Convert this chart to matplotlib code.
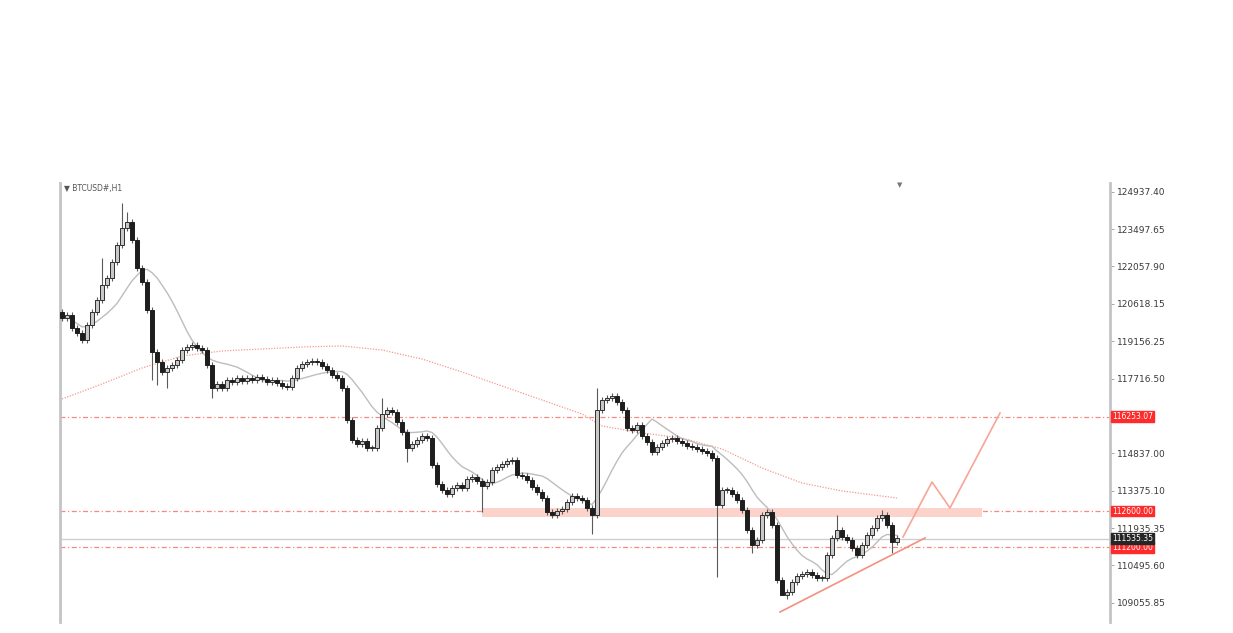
import matplotlib
matplotlib.use("Agg")
import matplotlib.pyplot as plt
import matplotlib.transforms as mtransforms
from matplotlib.patches import Rectangle
import numpy as np
import pandas as pd

# hourly closes, one per bar
closes = [
    120065, 120181, 119678, 119485, 119214, 119794, 120297, 120761, 121341, 121612,
    122230, 122888, 123545, 123777, 123081, 121998, 121457, 120374, 118750, 118363,
    117977, 118131, 118247, 118441, 118827, 118944, 119021, 118905, 118827, 118247,
    117358, 117513, 117358, 117667, 117590, 117745, 117629, 117745, 117667, 117783,
    117706, 117590, 117667, 117551, 117435, 117397, 117745, 118131, 118286, 118363,
    118402, 118363, 118209, 118054, 117861, 117745, 117358, 116121, 115347, 115193,
    115309, 115038, 115038, 115811, 116353, 116508, 116430, 116043, 115657, 115038,
    115193, 115347, 115502, 115424, 114380, 113646, 113414, 113259, 113491, 113607,
    113491, 113839, 113916, 113762, 113568, 113723, 114187, 114303, 114419, 114535,
    114574, 113994, 113955, 113800, 113530, 113336, 113104, 112563, 112447, 112602,
    112679, 112950, 113182, 113104, 113027, 112718, 112447, 116508, 116894, 116971,
    117049, 116817, 116508, 115811, 115734, 115928, 115502, 115270, 114883, 115077,
    115231, 115386, 115424, 115309, 115231, 115115, 115077, 114999, 114922, 114845,
    114651, 112834, 113414, 113414, 113259, 113027, 112641, 111868, 111287, 111481,
    112447, 112563, 112061, 109933, 109353, 109469, 109856, 110088, 110165, 110243,
    110127, 110010, 110010, 110900, 111558, 111868, 111596, 111481, 111171, 110900,
    111287, 111674, 111944, 112331, 112447, 112061, 111403, 111558,
]
first_open = 120300

# long wicks
spike_high = {8: 122385, 12: 124511, 13: 124164, 64: 116971, 107: 117358,
              155: 112447, 164: 112640}
spike_low = {18: 117667, 19: 117474, 21: 117358, 30: 116971, 69: 114496,
             84: 112563, 106: 111714, 131: 110054, 138: 110978, 144: 109390,
             145: 109198, 166: 110978}

# slow moving average (red dotted), sampled
slow_ma_idx = [0, 8, 16, 24, 32, 40, 48, 56, 64, 72, 80, 88, 96, 104, 108,
               116, 124, 132, 140, 148, 156, 167]
slow_ma_val = [116933, 117513, 118131, 118595, 118789, 118866, 118944, 118982,
               118827, 118479, 117977, 117435, 116894, 116353, 115889, 115618,
               115424, 114999, 114264, 113684, 113375, 113104]

# levels
levels = [116253.07, 112600.00, 111200.00]
level_labels = ["116253.07", "112600.00", "111200.00"]
last_price = 111535.35
last_label = "111535.35"

zone_x = [84, 184]
zone_y = [112370, 112718]

trend_x = [143.6, 172.6]
trend_y = [108696, 111558]

proj_x = [168.2, 174.0, 177.6, 187.6]
proj_y = [111596, 113723, 112718, 116391]

tick_vals = [124937.40, 123497.65, 122057.90, 120618.15, 119156.25, 117716.50,
             114837.00, 113375.10, 111935.35, 110495.60, 109055.85]

# build candles
c = np.array(closes, dtype=float)
o = np.concatenate([[first_open], c[:-1]])
h = np.maximum(o, c) + 110
l = np.minimum(o, c) - 110
for k, v in spike_high.items():
    h[k] = v
for k, v in spike_low.items():
    l[k] = v
idx = np.arange(len(c))
fast_ma = pd.Series(c).rolling(12, min_periods=1).mean()

W, H = 1233, 633
fig = plt.figure(figsize=(W / 100, H / 100), dpi=100)
fig.patch.set_facecolor("white")
ax = fig.add_axes([60 / W, (H - 622) / H, (1110 - 60) / W, (622 - 183) / H])
ax.set_xlim(-0.4, 209.6)
ax.set_ylim(108309, 125285)

# horizontal levels and zone
for lv in levels:
    ax.axhline(lv, color="#f28a80", lw=0.9, ls=(0, (4, 2, 1, 2)), zorder=1)
ax.axhline(last_price, color="#cfcfcf", lw=1.0, zorder=1)
ax.add_patch(Rectangle((zone_x[0], zone_y[0]), zone_x[1] - zone_x[0],
                       zone_y[1] - zone_y[0], facecolor="#fcd3ca",
                       edgecolor="none", zorder=1))

# moving averages
ax.plot(slow_ma_idx, slow_ma_val, color="#f39a90", lw=0.9, ls=(0, (1, 1.2)), zorder=2)
ax.plot(idx, fast_ma, color="#bdbdbd", lw=1.0, zorder=2)

# candles
up = c >= o
ax.vlines(idx, l, h, color="#5a5a5a", lw=0.8, zorder=3)
body = np.where(np.abs(c - o) < 50, 50, np.abs(c - o))
ax.bar(idx[up], body[up], bottom=o[up], width=0.75, color="#c8c8c8",
       edgecolor="#2e2e2e", lw=0.7, zorder=4)
ax.bar(idx[~up], body[~up], bottom=c[~up], width=0.75, color="#1e1e1e",
       edgecolor="#1e1e1e", lw=0.7, zorder=4)

# drawings
ax.plot(trend_x, trend_y, color="#f4907f", lw=1.2, zorder=5)
ax.plot(proj_x, proj_y, color="#f7a596", lw=1.2, zorder=5)

# axes styling
for s in ["top", "bottom"]:
    ax.spines[s].set_visible(False)
for s in ["left", "right"]:
    ax.spines[s].set_color("#c4c4c4")
    ax.spines[s].set_linewidth(2)
ax.set_xticks([])
ax.yaxis.tick_right()
ax.set_yticks(tick_vals)
ax.set_yticklabels([f"{v:.2f}" for v in tick_vals])
ax.tick_params(axis="y", length=3, width=0.6, color="#999999", labelsize=6.5,
               labelcolor="#3a3a3a", pad=2)

# price labels on the scale
trans = mtransforms.blended_transform_factory(ax.transAxes, ax.transData)
for lv, txt in zip(levels, level_labels):
    ax.text(1.002, lv, txt, transform=trans, fontsize=5.5, color="white",
            va="center", ha="left", clip_on=False,
            bbox=dict(boxstyle="square,pad=0.12", fc="#ff2a2a", ec="#ff2a2a"))
ax.text(1.002, last_price, last_label, transform=trans, fontsize=5.5,
        color="white", va="center", ha="left", clip_on=False,
        bbox=dict(boxstyle="square,pad=0.12", fc="#262626", ec="#262626"))

fig.text(64 / W, 1 - 188 / H, "\u25bc BTCUSD#,H1", fontsize=5.5,
         color="#555555", va="center", ha="left")
fig.text(900 / W, 1 - 185 / H, "\u25bc", fontsize=5, color="#777777",
         va="center", ha="center")

fig.savefig("out.png", dpi=100)
